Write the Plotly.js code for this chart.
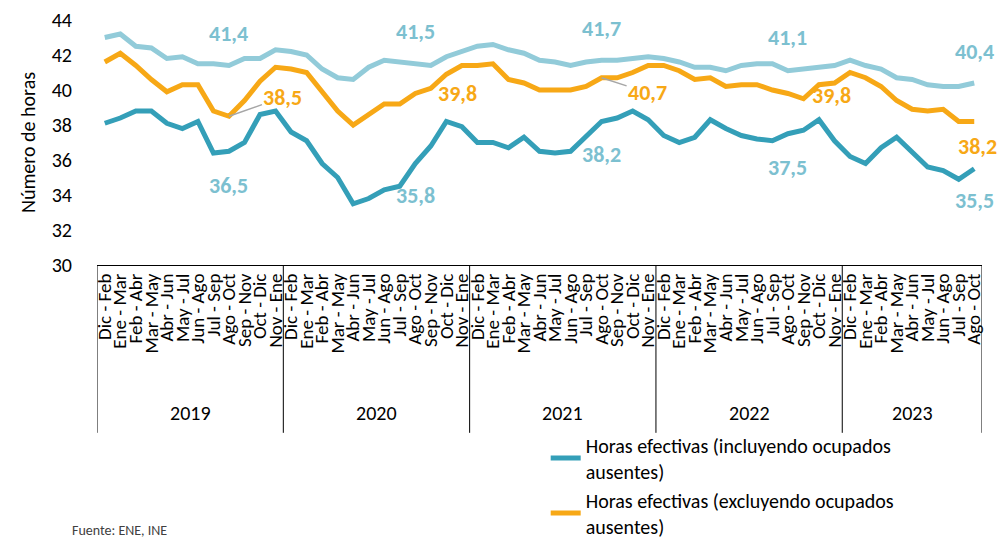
<!DOCTYPE html>
<html>
<head>
<meta charset="utf-8">
<script src="https://cdn.plot.ly/plotly-3.0.1.min.js"></script>
<style>html,body{margin:0;padding:0;background:#fff;}#chart{width:1001px;height:543px;}</style>
</head>
<body>
<div id="chart"></div>
<script>
// ---- Data ----
const years = ["2019", "2020", "2021", "2022", "2023"];
const periodsPerYear = [12, 12, 12, 12, 9];
const months = ["Dic - Feb", "Ene - Mar", "Feb - Abr", "Mar - May", "Abr - Jun", "May - Jul",
                "Jun - Ago", "Jul - Sep", "Ago - Oct", "Sep - Nov", "Oct - Dic", "Nov - Ene"];

const seriesNames = [
  "Horas habituales",
  "Horas efectivas (incluyendo ocupados<br>ausentes)",
  "Horas efectivas (excluyendo ocupados<br>ausentes)"
];

const horasHabituales = [
  43.0, 43.2, 42.5, 42.4, 41.8, 41.9, 41.5, 41.5, 41.4, 41.8, 41.8, 42.3,
  42.2, 42.0, 41.2, 40.7, 40.6, 41.3, 41.7, 41.6, 41.5, 41.4, 41.9, 42.2,
  42.5, 42.6, 42.3, 42.1, 41.7, 41.6, 41.4, 41.6, 41.7, 41.7, 41.8, 41.9,
  41.8, 41.6, 41.3, 41.3, 41.1, 41.4, 41.5, 41.5, 41.1, 41.2, 41.3, 41.4,
  41.7, 41.4, 41.2, 40.7, 40.6, 40.3, 40.2, 40.2, 40.4
];
const efectivasIncluyendo = [
  38.1, 38.4, 38.8, 38.8, 38.1, 37.8, 38.2, 36.4, 36.5, 37.0, 38.6, 38.8,
  37.6, 37.1, 35.8, 35.0, 33.5, 33.8, 34.3, 34.5, 35.8, 36.8, 38.2, 37.9,
  37.0, 37.0, 36.7, 37.3, 36.5, 36.4, 36.5, 37.4, 38.2, 38.4, 38.8, 38.3,
  37.4, 37.0, 37.3, 38.3, 37.8, 37.4, 37.2, 37.1, 37.5, 37.7, 38.3, 37.1,
  36.2, 35.8, 36.7, 37.3, 36.4, 35.6, 35.4, 34.9, 35.5
];
const efectivasExcluyendo = [
  41.6, 42.1, 41.4, 40.6, 39.9, 40.3, 40.3, 38.8, 38.5, 39.4, 40.5, 41.3,
  41.2, 41.0, 39.9, 38.8, 38.0, 38.6, 39.2, 39.2, 39.8, 40.1, 40.9, 41.4,
  41.4, 41.5, 40.6, 40.4, 40.0, 40.0, 40.0, 40.2, 40.7, 40.7, 41.0, 41.4,
  41.4, 41.1, 40.6, 40.7, 40.2, 40.3, 40.3, 40.0, 39.8, 39.5, 40.3, 40.4,
  41.0, 40.7, 40.2, 39.4, 38.9, 38.8, 38.9, 38.2, 38.2
];
// Points carrying a data label (Ago - Oct of each year)
const labeledIndex = [8, 20, 32, 44, 56];

// ---- Build axis ----
const periodLabels = [];
const yearStart = [];
let k = 0;
periodsPerYear.forEach(function (n) {
  yearStart.push(k);
  for (let i = 0; i < n; i++) { periodLabels.push(months[i]); }
  k += n;
});
const xIdx = periodLabels.map(function (_, i) { return i; });

const FONT = "Carlito, Calibri, 'Liberation Sans Narrow', 'Liberation Sans', Arial, sans-serif";
const cHab = "rgb(146,203,217)";
const cInc = "rgb(52,159,184)";
const cExc = "rgb(247,168,22)";
const cLabelBlue = "rgb(124,192,208)";

const traces = [
  {x: xIdx, y: horasHabituales, name: seriesNames[0], type: "scatter", mode: "lines",
   line: {color: cHab, width: 5}, showlegend: false, hoverinfo: "skip"},
  {x: xIdx, y: efectivasExcluyendo, name: seriesNames[2], type: "scatter", mode: "lines",
   line: {color: cExc, width: 5}, showlegend: true, legendrank: 2},
  {x: xIdx, y: efectivasIncluyendo, name: seriesNames[1], type: "scatter", mode: "lines",
   line: {color: cInc, width: 5}, showlegend: true, legendrank: 1}
];

function fmt(v) { return v.toFixed(1).replace(".", ","); }

// label placement (pixel offsets from point), per year position
const habShift = [32, 32, 32, 33, 32];
const incShift = [-34, -32, -33, -34, -32];
const excPlace = [
  {arrow: true, ax: 54, ay: -19},
  {arrow: false, xs: 42, ys: 0},
  {arrow: true, ax: 46, ay: 15},
  {arrow: false, xs: 44, ys: -2},
  {arrow: false, xs: 3, ys: -25}
];

const annotations = [];
labeledIndex.forEach(function (idx, j) {
  annotations.push({x: idx, y: horasHabituales[idx], xref: "x", yref: "y", text: fmt(horasHabituales[idx]),
    showarrow: false, yshift: habShift[j], font: {family: FONT, size: 22, color: cLabelBlue, weight: "bold"}});
  annotations.push({x: idx, y: efectivasIncluyendo[idx], xref: "x", yref: "y", text: fmt(efectivasIncluyendo[idx]),
    showarrow: false, yshift: incShift[j], font: {family: FONT, size: 22, color: cLabelBlue, weight: "bold"}});
  const p = excPlace[j];
  const a = {x: idx, y: efectivasExcluyendo[idx], xref: "x", yref: "y", text: fmt(efectivasExcluyendo[idx]),
    font: {family: FONT, size: 22, color: cExc, weight: "bold"}};
  if (p.arrow) {
    a.showarrow = true; a.ax = p.ax; a.ay = p.ay; a.arrowhead = 0; a.arrowwidth = 1.5;
    a.arrowcolor = "rgb(166,166,166)"; a.standoff = 0; a.startstandoff = 0;
  } else {
    a.showarrow = false; a.xshift = p.xs; a.yshift = p.ys;
  }
  annotations.push(a);
});

// year group labels and dividers
const yearLabelY = -0.605;
const dividerBottom = -0.685;
const shapes = [];
years.forEach(function (yr, j) {
  const s = yearStart[j] - 0.5;
  const e = yearStart[j] + periodsPerYear[j] - 0.5;
  annotations.push({x: (s + e) / 2, y: yearLabelY, xref: "x", yref: "paper", text: yr, showarrow: false,
    yanchor: "middle", font: {family: FONT, size: 20, color: "#000"}});
  shapes.push({type: "line", xref: "x", yref: "paper", x0: s, x1: s, y0: 0, y1: dividerBottom,
    line: {color: "#000", width: 1}});
  if (j === years.length - 1) {
    shapes.push({type: "line", xref: "x", yref: "paper", x0: e, x1: e, y0: 0, y1: dividerBottom,
      line: {color: "#000", width: 1}});
  }
});

annotations.push({x: -0.03, y: -1.128, xref: "paper", yref: "paper", xanchor: "left", yanchor: "bottom",
  text: "Fuente: ENE, INE", showarrow: false, font: {family: FONT, size: 14, color: "#404040"}});

const layout = {
  width: 1001, height: 543,
  margin: {l: 97, r: 19, t: 20, b: 278, autoexpand: false},
  paper_bgcolor: "#fff", plot_bgcolor: "#fff",
  font: {family: FONT, color: "#000"},
  showlegend: true,
  legend: {x: 0.507, y: -0.655, xanchor: "left", yanchor: "top", orientation: "v",
    font: {family: FONT, size: 20, color: "#000"}, bgcolor: "rgba(0,0,0,0)", tracegroupgap: 8,
    traceorder: "normal"},
  xaxis: {range: [-0.5, xIdx.length - 0.5], tickmode: "array", tickvals: xIdx, ticktext: periodLabels,
    tickangle: -90, showline: true, linecolor: "#000", linewidth: 1, showgrid: false, zeroline: false,
    ticks: "", tickfont: {family: FONT, size: 19, color: "#000"}, fixedrange: true, automargin: false},
  yaxis: {range: [30, 44], dtick: 2, tick0: 30, showgrid: false, zeroline: false, showline: false,
    ticks: "", ticklabelstandoff: 24, tickfont: {family: FONT, size: 20, color: "#000"},
    title: {text: "Número de horas", font: {family: FONT, size: 20, color: "#000"}, standoff: 10},
    fixedrange: true, automargin: false},
  annotations: annotations,
  shapes: shapes
};

Plotly.newPlot("chart", traces, layout, {displayModeBar: false, staticPlot: true});
</script>
</body>
</html>
